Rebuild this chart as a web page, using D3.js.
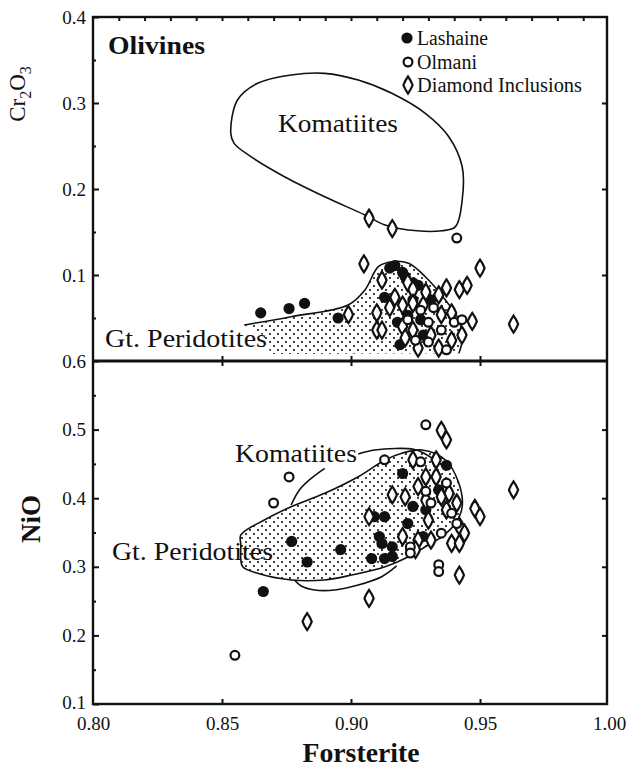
<!DOCTYPE html>
<html><head><meta charset="utf-8">
<script src="https://cdn.jsdelivr.net/npm/d3@7/dist/d3.min.js"></script>
<style>
html,body{margin:0;padding:0;background:#fff;}
svg{display:block;}
text{font-family:"Liberation Serif","Times New Roman",serif;fill:#111;}
</style></head>
<body>
<svg id="c" width="627" height="767"></svg>
<script>
// ---------- data ----------
const xTicks = [0.80, 0.85, 0.90, 0.95, 1.00];
const crTicks = [0.1, 0.2, 0.3, 0.4];
const crMinor = [0.05, 0.15, 0.25, 0.35];
const niTicks = [0.1, 0.2, 0.3, 0.4, 0.5, 0.6];
const niMinor = [0.15, 0.25, 0.35, 0.45, 0.55];
const topMinorX = d3.range(81, 100).map(d => d / 100);

// Cr2O3 panel
const crLashaine = [[0.865,0.056],[0.876,0.061],[0.882,0.067],[0.895,0.050],[0.915,0.108],[0.917,0.111],[0.920,0.103],[0.913,0.074],[0.922,0.053],[0.927,0.048],[0.924,0.071],[0.918,0.045],[0.931,0.071],[0.926,0.088],[0.921,0.098],[0.924,0.091],[0.928,0.030],[0.919,0.019]];
const crOlmani = [[0.941,0.143],[0.930,0.045],[0.935,0.036],[0.925,0.024],[0.930,0.022],[0.940,0.045],[0.943,0.048],[0.937,0.013],[0.927,0.059],[0.932,0.062],[0.922,0.048]];
const crDiamond = [[0.907,0.166],[0.916,0.154],[0.905,0.113],[0.950,0.108],[0.937,0.085],[0.947,0.046],[0.963,0.043],[0.899,0.054],[0.910,0.036],[0.912,0.094],[0.917,0.074],[0.922,0.091],[0.924,0.083],[0.929,0.080],[0.934,0.077],[0.942,0.083],[0.945,0.088],[0.910,0.056],[0.915,0.062],[0.920,0.065],[0.924,0.067],[0.928,0.065],[0.912,0.036],[0.920,0.040],[0.924,0.036],[0.935,0.054],[0.939,0.056],[0.926,0.015],[0.931,0.030],[0.939,0.024],[0.943,0.030],[0.921,0.027],[0.934,0.015]];
const crKomatiites = [[0.8534,0.2648],[0.8560,0.3035],[0.8638,0.3229],[0.8768,0.3326],[0.8898,0.3345],[0.9028,0.3267],[0.9158,0.3113],[0.9288,0.2880],[0.9379,0.2608],[0.9431,0.2259],[0.9431,0.1872],[0.9405,0.1562],[0.9353,0.1515],[0.9223,0.1523],[0.9132,0.1581],[0.9054,0.1698],[0.8898,0.1910],[0.8742,0.2143],[0.8612,0.2376],[0.8547,0.2531]];
const crPeridotites = [[0.8586,0.0419],[0.8768,0.0515],[0.8989,0.0651],[0.9054,0.0826],[0.9106,0.1097],[0.9158,0.1155],[0.9223,0.1136],[0.9288,0.0980],[0.9366,0.0709],[0.9418,0.0477],[0.9431,0.0244],[0.9418,0.0090]];
const crPeridotitesBase = [[0.8690,0.0081],[0.8660,0.0300]];

// NiO panel
const niLashaine = [[0.920,0.436],[0.937,0.448],[0.877,0.337],[0.883,0.307],[0.896,0.325],[0.866,0.264],[0.908,0.312],[0.913,0.312],[0.916,0.315],[0.911,0.344],[0.912,0.334],[0.916,0.329],[0.909,0.373],[0.913,0.373],[0.922,0.363],[0.924,0.388],[0.928,0.344],[0.929,0.383],[0.934,0.412]];
const niOlmani = [[0.929,0.507],[0.876,0.431],[0.870,0.393],[0.913,0.456],[0.855,0.171],[0.934,0.303],[0.934,0.293],[0.931,0.393],[0.939,0.378],[0.941,0.363],[0.935,0.349],[0.923,0.329],[0.923,0.320],[0.927,0.453],[0.929,0.410],[0.937,0.422]];
const niDiamond = [[0.935,0.499],[0.937,0.485],[0.963,0.412],[0.948,0.385],[0.950,0.373],[0.942,0.288],[0.907,0.254],[0.883,0.220],[0.907,0.373],[0.916,0.405],[0.924,0.456],[0.933,0.456],[0.929,0.431],[0.933,0.431],[0.921,0.402],[0.926,0.417],[0.929,0.397],[0.938,0.407],[0.941,0.393],[0.930,0.368],[0.937,0.383],[0.942,0.359],[0.944,0.349],[0.939,0.334],[0.942,0.334],[0.931,0.339],[0.926,0.339],[0.925,0.325],[0.920,0.344],[0.935,0.402]];
const niPeridotites = [[0.8573,0.3464],[0.8664,0.3682],[0.8768,0.3876],[0.8898,0.4071],[0.9028,0.4313],[0.9132,0.4557],[0.9197,0.4655],[0.9275,0.4703],[0.9366,0.4557],[0.9418,0.4217],[0.9431,0.3876],[0.9405,0.3634],[0.9353,0.3439],[0.9288,0.3293],[0.9223,0.3147],[0.9132,0.3001],[0.9002,0.2880],[0.8898,0.2808],[0.8768,0.2808],[0.8638,0.2905],[0.8580,0.3001],[0.8573,0.3099],[0.8573,0.3318]];
const niKomTop = [[0.9028,0.4644],[0.9093,0.4703],[0.9243,0.4713],[0.9288,0.4644],[0.9353,0.4484]];
const niKomLeft = [[0.8898,0.4436],[0.8846,0.4290],[0.8800,0.4120],[0.8768,0.3901]];
const niKomBottom = [[0.8781,0.2808],[0.8807,0.2720],[0.8859,0.2662],[0.8937,0.2662],[0.9028,0.2735],[0.9119,0.2856],[0.9177,0.3012]];

const legendItems = ["Lashaine", "Olmani", "Diamond Inclusions"];

// ---------- scales ----------
const svg = d3.select("#c");
const L = 93, R = 607;
const x = d3.scaleLinear().domain([0.8, 1.0]).range([93, 609]);
const yCr = d3.scaleLinear().domain([0, 0.4]).range([361, 17]);
const yNi = d3.scaleLinear().domain([0.1, 0.6]).range([704, 361]);

const defs = svg.append("defs");
const pat = defs.append("pattern").attr("id", "dots").attr("patternUnits", "userSpaceOnUse")
  .attr("width", 8).attr("height", 8);
pat.append("circle").attr("cx", 2).attr("cy", 2).attr("r", 1.05).attr("fill", "#111");
pat.append("circle").attr("cx", 6).attr("cy", 6).attr("r", 1.05).attr("fill", "#111");

const diamondPath = "M0,-8.5Q3.2,-4 4.6,0Q3.2,4 0,8.5Q-3.2,4 -4.6,0Q-3.2,-4 0,-8.5Z";

function lineGen(y, curve) {
  return d3.line().x(d => x(d[0])).y(d => y(d[1])).curve(curve);
}

// ---------- fields ----------
const gTop = svg.append("g");
gTop.append("path").datum(crPeridotites.concat(crPeridotitesBase))
  .attr("d", lineGen(yCr, d3.curveLinearClosed))
  .attr("fill", "url(#dots)").attr("stroke", "none");
gTop.append("path").datum(crPeridotites)
  .attr("d", lineGen(yCr, d3.curveCatmullRom))
  .attr("fill", "none").attr("stroke", "#111").attr("stroke-width", 1.6);
gTop.append("path").datum(crKomatiites)
  .attr("d", lineGen(yCr, d3.curveCatmullRomClosed))
  .attr("fill", "none").attr("stroke", "#111").attr("stroke-width", 1.6);

const gBot = svg.append("g");
gBot.append("path").datum(niPeridotites)
  .attr("d", lineGen(yNi, d3.curveCatmullRomClosed))
  .attr("fill", "url(#dots)").attr("stroke", "#111").attr("stroke-width", 1.6);
[niKomTop, niKomLeft, niKomBottom].forEach(p => {
  gBot.append("path").datum(p).attr("d", lineGen(yNi, d3.curveCatmullRom))
    .attr("fill", "none").attr("stroke", "#111").attr("stroke-width", 1.6);
});

// ---------- symbols ----------
function drawPoints(g, y, filled, open, diam) {
  g.selectAll(null).data(filled).enter().append("circle")
    .attr("cx", d => x(d[0])).attr("cy", d => y(d[1])).attr("r", 5.6)
    .attr("fill", "#111");
  g.selectAll(null).data(diam).enter().append("path")
    .attr("d", diamondPath)
    .attr("transform", d => `translate(${x(d[0])},${y(d[1])})`)
    .attr("fill", "#fff").attr("stroke", "#111").attr("stroke-width", 2.2);
  g.selectAll(null).data(open).enter().append("circle")
    .attr("cx", d => x(d[0])).attr("cy", d => y(d[1])).attr("r", 4.4)
    .attr("fill", "#fff").attr("stroke", "#111").attr("stroke-width", 2.2);
}
drawPoints(svg.append("g"), yCr, crLashaine, crOlmani, crDiamond);
drawPoints(svg.append("g"), yNi, niLashaine, niOlmani, niDiamond);

// ---------- frame ----------
svg.append("rect").attr("x", L).attr("y", 17).attr("width", R - L).attr("height", 704 - 17)
  .attr("fill", "none").attr("stroke", "#111").attr("stroke-width", 2.4);
svg.append("line").attr("x1", L).attr("x2", R).attr("y1", 361).attr("y2", 361)
  .attr("stroke", "#111").attr("stroke-width", 3.2);

// ---------- axes ----------
function styleAxis(g) {
  g.select(".domain").remove();
  g.selectAll("line").attr("stroke", "#111").attr("stroke-width", 2);
  g.selectAll("text").style("font-family", '"Liberation Serif",serif').style("font-size", "19px").attr("fill", "#333");
}
svg.append("g").attr("transform", `translate(${L},0)`)
  .call(d3.axisLeft(yCr).tickValues(crTicks).tickSize(-6).tickPadding(7).tickFormat(d3.format(".1f")))
  .call(styleAxis);
svg.append("g").attr("transform", `translate(${L},0)`)
  .call(d3.axisLeft(yCr).tickValues(crMinor).tickSize(-3).tickFormat(""))
  .call(styleAxis);
svg.append("g").attr("transform", `translate(${L},0)`)
  .call(d3.axisLeft(yNi).tickValues(niTicks).tickSize(-6).tickPadding(7).tickFormat(d3.format(".1f")))
  .call(styleAxis)
  .call(g => g.selectAll(".tick").filter(d => d === 0.1).select("text").attr("dy", "4.5"));
svg.append("g").attr("transform", `translate(${L},0)`)
  .call(d3.axisLeft(yNi).tickValues(niMinor).tickSize(-3).tickFormat(""))
  .call(styleAxis);
svg.append("g").attr("transform", `translate(${R},0)`)
  .call(d3.axisRight(yCr).tickValues([0.1, 0.2, 0.3]).tickSize(-5).tickFormat(""))
  .call(styleAxis);
svg.append("g").attr("transform", `translate(${R},0)`)
  .call(d3.axisRight(yNi).tickValues([0.2, 0.3, 0.4, 0.5]).tickSize(-5).tickFormat(""))
  .call(styleAxis);
svg.append("g").attr("transform", `translate(0,704)`)
  .call(d3.axisBottom(x).tickValues(xTicks).tickSize(-5).tickPadding(12.5).tickFormat(d3.format(".2f")))
  .call(styleAxis)
  .call(g => g.selectAll(".tick").filter(d => d === 0.8 || d === 1.0).select("line").remove());
svg.append("g").attr("transform", `translate(0,361)`)
  .call(d3.axisBottom(x).tickValues([0.85, 0.90, 0.95]).tickSize(-5).tickFormat(""))
  .call(styleAxis);
svg.append("g").attr("transform", `translate(0,361)`)
  .call(d3.axisBottom(x).tickValues([0.85, 0.90, 0.95]).tickSize(5).tickFormat(""))
  .call(styleAxis);
svg.append("g").attr("transform", `translate(0,17)`)
  .call(d3.axisTop(x).tickValues(topMinorX).tickSize(-4).tickFormat(""))
  .call(styleAxis);

// ---------- labels ----------
function label(t, xx, yy, size, len, bold) {
  svg.append("text").attr("x", xx).attr("y", yy).text(t)
    .style("font-size", size + "px").style("font-weight", bold ? "bold" : "normal")
    .attr("textLength", len).attr("lengthAdjust", "spacingAndGlyphs");
}
label("Olivines", 108, 54, 26, 97, true);
label("Komatiites", 278, 132, 25, 120, false);
label("Gt. Peridotites", 105, 347, 26, 162, false);
label("Komatiites", 235, 462, 25, 122, false);
label("Gt. Peridotites", 112, 560, 26, 161, false);

svg.append("text").attr("x", 361).attr("y", 762).attr("text-anchor", "middle").text("Forsterite")
  .style("font-size", "28px").style("font-weight", "bold")
  .attr("textLength", 117).attr("lengthAdjust", "spacingAndGlyphs");

const cr = svg.append("text").attr("transform", "translate(25,94) rotate(-90)")
  .attr("text-anchor", "middle").style("font-size", "23px");
cr.append("tspan").text("Cr");
cr.append("tspan").text("2").attr("dy", 6).style("font-size", "16px");
cr.append("tspan").text("O").attr("dy", -6);
cr.append("tspan").text("3").attr("dy", 6).style("font-size", "16px");

svg.append("text").attr("transform", "translate(40,519) rotate(-90)")
  .attr("text-anchor", "middle").style("font-size", "27px").style("font-weight", "bold").text("NiO");

// legend
const lg = svg.append("g");
const ly = [38, 62, 85];
lg.append("circle").attr("cx", 407).attr("cy", ly[0]).attr("r", 5.6).attr("fill", "#111");
lg.append("circle").attr("cx", 408).attr("cy", ly[1]).attr("r", 4.4).attr("fill", "#fff").attr("stroke", "#111").attr("stroke-width", 2.2);
lg.append("path").attr("d", diamondPath).attr("transform", `translate(408,${ly[2]})`)
  .attr("fill", "#fff").attr("stroke", "#111").attr("stroke-width", 2.2);
const lens = [71, 60, 165];
legendItems.forEach((t, i) => {
  lg.append("text").attr("x", 417).attr("y", ly[i] + 7).text(t).style("font-size", "20px")
    .attr("textLength", lens[i]).attr("lengthAdjust", "spacingAndGlyphs");
});
</script>
</body></html>
